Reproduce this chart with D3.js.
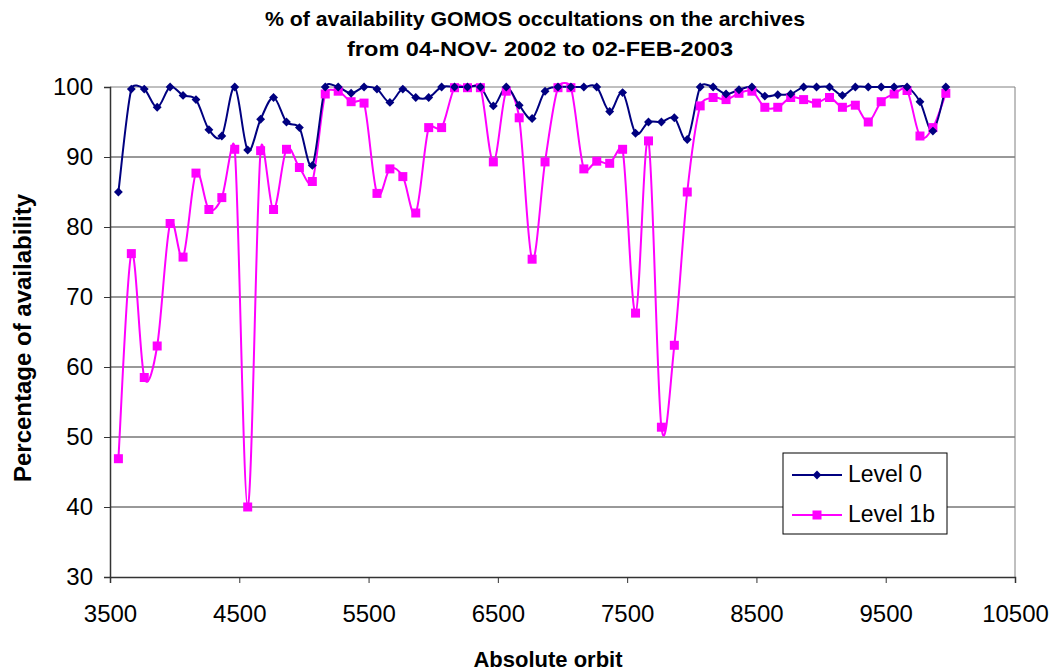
<!DOCTYPE html>
<html>
<head>
<meta charset="utf-8">
<script src="https://cdn.jsdelivr.net/npm/d3@7"></script>
<style>
  body { margin: 0; background: #fff; }
  text { font-family: "Liberation Sans", Arial, sans-serif; }
</style>
</head>
<body>
<div id="chart"></div>
<script>
// absolute orbit of each sample
const orbits = [3565, 3665, 3765, 3865, 3965, 4065, 4165, 4265, 4365, 4465,
    4565, 4665, 4765, 4865, 4965, 5065, 5165, 5265, 5365, 5465,
    5565, 5665, 5765, 5865, 5965, 6065, 6165, 6265, 6365, 6465,
    6565, 6665, 6765, 6865, 6965, 7065, 7165, 7265, 7365, 7465,
    7565, 7665, 7765, 7865, 7965, 8065, 8165, 8265, 8365, 8465,
    8565, 8665, 8765, 8865, 8965, 9065, 9165, 9265, 9365, 9465,
    9565, 9665, 9765, 9865, 9965];

const level0 = [85.0, 99.7, 99.7, 97.1, 100, 98.8, 98.2, 93.9, 93.0, 100,
    91.0, 95.4, 98.5, 95.0, 94.2, 88.8, 100, 100, 99.1, 100,
    99.7, 97.8, 99.7, 98.5, 98.5, 100, 100, 100, 100, 97.3,
    100, 97.4, 95.5, 99.4, 100, 100, 100, 100, 96.5, 99.2,
    93.4, 95.0, 95.0, 95.6, 92.5, 100, 100, 99.0, 99.6, 100,
    98.7, 98.9, 99.0, 100, 100, 100, 98.8, 100, 100, 100,
    100, 100, 97.9, 93.7, 100];

const level1b = [46.9, 76.2, 58.5, 63.0, 80.5, 75.7, 87.7, 82.5, 84.2, 91.1,
    40.0, 90.9, 82.5, 91.1, 88.5, 86.5, 99.0, 99.4, 97.9, 97.7,
    84.8, 88.3, 87.2, 82.0, 94.2, 94.2, 99.9, 99.9, 99.9, 89.3,
    99.4, 95.6, 75.4, 89.3, 99.9, 99.9, 88.3, 89.4, 89.1, 91.1,
    67.7, 92.3, 51.4, 63.1, 85.0, 97.3, 98.5, 98.2, 99.1, 99.4,
    97.1, 97.1, 98.5, 98.2, 97.7, 98.5, 97.1, 97.4, 95.0, 97.9,
    99.0, 99.5, 93.0, 94.2, 99.1];

const xTicks = [3500, 4500, 5500, 6500, 7500, 8500, 9500, 10500];
const yTicks = [30, 40, 50, 60, 70, 80, 90, 100];

const seriesNames = ["Level 0", "Level 1b"];
const seriesColors = ["#000080", "#ff00ff"];

const W = 1053, H = 672;
const margin = {top: 87, left: 110, right: 38, bottom: 95};
const width = W - margin.left - margin.right,
    height = H - margin.top - margin.bottom;

// spreadsheet-style smoothing: bezier arms of 1/6 the neighbour chord,
// capped at half the segment length
function SmoothCurve(context) { this._context = context; }
SmoothCurve.prototype = {
    areaStart() {}, areaEnd() {},
    lineStart() { this._pts = []; },
    point(x, y) { this._pts.push([+x, +y]); },
    lineEnd() {
        const p = this._pts, n = p.length, ctx = this._context;
        if (!n) return;
        const dist = (a, b) => Math.hypot(b[0] - a[0], b[1] - a[1]);
        ctx.moveTo(p[0][0], p[0][1]);
        for (let i = 0; i < n - 1; i++) {
            const p0 = p[Math.max(i - 1, 0)], p1 = p[i], p2 = p[i + 1],
                p3 = p[Math.min(i + 2, n - 1)];
            const d12 = dist(p1, p2), d02 = dist(p0, p2), d13 = dist(p1, p3);
            let f0 = 1 / 6, f3 = 1 / 6;
            if (d02 / 6 > d12 / 2) f0 = d12 / (2 * d02);
            if (d13 / 6 > d12 / 2) f3 = d12 / (2 * d13);
            ctx.bezierCurveTo(
                p1[0] + (p2[0] - p0[0]) * f0, p1[1] + (p2[1] - p0[1]) * f0,
                p2[0] - (p3[0] - p1[0]) * f3, p2[1] - (p3[1] - p1[1]) * f3,
                p2[0], p2[1]);
        }
    }
};

const svg = d3.select("#chart")
    .append("svg")
    .attr("width", W)
    .attr("height", H);

const gr = svg.append("g")
    .attr("transform", "translate(" + margin.left + "," + margin.top + ")");

const xScale = d3.scaleLinear().domain([3500, 10500]).range([0, width]);
const yScale = d3.scaleLinear().domain([30, 100]).range([height, 0]);

// gridlines
gr.selectAll(".grid")
    .data(yTicks.slice(1))
    .join("line")
    .attr("class", "grid")
    .attr("x1", 0).attr("x2", width)
    .attr("y1", d => yScale(d)).attr("y2", d => yScale(d))
    .attr("stroke", d => d === 100 ? "#808080" : "#333")
    .attr("stroke-width", 1);

// right border
gr.append("line")
    .attr("x1", width).attr("x2", width)
    .attr("y1", 0).attr("y2", height)
    .attr("stroke", "#808080");

const xAxis = d3.axisBottom(xScale)
    .tickValues(xTicks)
    .tickSize(6)
    .tickPadding(22)
    .tickFormat(d3.format("d"));

const yAxis = d3.axisLeft(yScale)
    .tickValues(yTicks)
    .tickSize(6)
    .tickPadding(11)
    .tickFormat(d3.format("d"));

const xAxGr = gr.append("g")
    .attr("transform", "translate(0," + height + ")")
    .call(xAxis);

const yAxGr = gr.append("g")
    .call(yAxis);

[xAxGr, yAxGr].forEach(a => {
    a.select(".domain").attr("stroke", "#333").attr("stroke-width", 1.5);
    a.selectAll(".tick line").attr("stroke", "#333");
    a.selectAll(".tick text")
        .attr("font-size", 24)
        .attr("font-family", "'Liberation Sans', Arial, sans-serif")
        .attr("fill", "#000");
});

const line = d3.line()
    .x((d, i) => xScale(orbits[i]))
    .y(d => yScale(d))
    .curve(ctx => new SmoothCurve(ctx));

const series = [level0, level1b];

// draw level 1b first so level 0 sits on top where they meet
[1, 0].forEach(k => {
    gr.append("path")
        .datum(series[k])
        .attr("d", line)
        .attr("fill", "none")
        .attr("stroke", seriesColors[k])
        .attr("stroke-width", 2);
});

const diamond = d3.symbol().type(d3.symbolDiamond2).size(50);
const square = d3.symbol().type(d3.symbolSquare).size(81);

gr.selectAll(".pt1b")
    .data(level1b)
    .join("path")
    .attr("class", "pt1b")
    .attr("d", square)
    .attr("fill", seriesColors[1])
    .attr("transform", (d, i) => "translate(" + xScale(orbits[i]) + "," + yScale(d) + ")");

gr.selectAll(".pt0")
    .data(level0)
    .join("path")
    .attr("class", "pt0")
    .attr("d", diamond)
    .attr("fill", seriesColors[0])
    .attr("transform", (d, i) => "translate(" + xScale(orbits[i]) + "," + yScale(d) + ")");

// legend
const leg = svg.append("g").attr("transform", "translate(783,453)");
leg.append("rect")
    .attr("width", 164).attr("height", 81)
    .attr("fill", "#fff").attr("stroke", "#000").attr("stroke-width", 1);

seriesNames.forEach((name, k) => {
    const y = 22 + k * 40;
    leg.append("line")
        .attr("x1", 9).attr("x2", 59)
        .attr("y1", y).attr("y2", y)
        .attr("stroke", seriesColors[k]).attr("stroke-width", 2);
    leg.append("path")
        .attr("d", k === 0 ? diamond : square)
        .attr("fill", seriesColors[k])
        .attr("transform", "translate(34," + y + ")");
    leg.append("text")
        .attr("x", 65).attr("y", y + 7)
        .attr("font-size", 23)
        .text(name);
});

// titles
svg.append("text")
    .attr("x", 535).attr("y", 26)
    .attr("text-anchor", "middle")
    .attr("font-size", 21).attr("font-weight", "bold")
    .attr("textLength", 540).attr("lengthAdjust", "spacingAndGlyphs")
    .text("% of availability GOMOS occultations on the archives");
svg.append("text")
    .attr("x", 540).attr("y", 56)
    .attr("text-anchor", "middle")
    .attr("font-size", 21).attr("font-weight", "bold")
    .attr("textLength", 386).attr("lengthAdjust", "spacingAndGlyphs")
    .text("from 04-NOV- 2002 to 02-FEB-2003");

svg.append("text")
    .attr("x", 548).attr("y", 667)
    .attr("text-anchor", "middle")
    .attr("font-size", 22).attr("font-weight", "bold")
    .text("Absolute orbit");

svg.append("text")
    .attr("transform", "translate(31,338) rotate(-90)")
    .attr("text-anchor", "middle")
    .attr("font-size", 24).attr("font-weight", "bold")
    .text("Percentage of availability");
</script>
</body>
</html>
